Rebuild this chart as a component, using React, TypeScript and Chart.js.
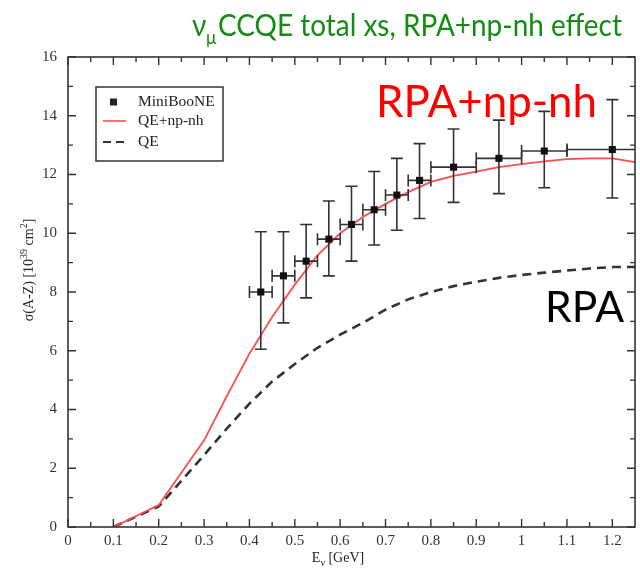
import React, { useEffect, useRef } from "react";
import { Chart, registerables } from "chart.js";

Chart.register(...registerables);

// ---- data ----
const xTickValues = [0, 0.1, 0.2, 0.3, 0.4, 0.5, 0.6, 0.7, 0.8, 0.9, 1.0, 1.1, 1.2];
const xTickLabels = ["0", "0.1", "0.2", "0.3", "0.4", "0.5", "0.6", "0.7", "0.8", "0.9", "1", "1.1", "1.2"];
const xMinorTicks = [0.05, 0.15, 0.25, 0.35, 0.45, 0.55, 0.65, 0.75, 0.85, 0.95, 1.05, 1.15];
const yTickValues = [0, 2, 4, 6, 8, 10, 12, 14, 16];
const yMinorTicks = [1, 3, 5, 7, 9, 11, 13, 15];

// MiniBooNE data
const mbX = [0.425, 0.475, 0.525, 0.575, 0.625, 0.675, 0.725, 0.775, 0.85, 0.95, 1.05, 1.2];
const mbXLow = [0.4, 0.45, 0.5, 0.55, 0.6, 0.65, 0.7, 0.75, 0.8, 0.9, 1.0, 1.1];
const mbXHigh = [0.45, 0.5, 0.55, 0.6, 0.65, 0.7, 0.75, 0.8, 0.9, 1.0, 1.1, 1.3];
const mbY = [8.0, 8.55, 9.05, 9.8, 10.3, 10.8, 11.3, 11.8, 12.25, 12.55, 12.8, 12.85];
const mbYLow = [6.05, 6.95, 7.8, 8.55, 9.05, 9.6, 10.1, 10.5, 11.05, 11.35, 11.55, 11.2];
const mbYHigh = [10.05, 10.05, 10.3, 11.1, 11.6, 12.1, 12.55, 13.05, 13.55, 13.85, 14.15, 14.55];

// QE+np-nh (red)
const npX = [0.1, 0.2, 0.3, 0.35, 0.4, 0.45, 0.5, 0.55, 0.6, 0.65, 0.7, 0.75, 0.8, 0.85, 0.9, 0.95, 1.0, 1.05, 1.1, 1.15, 1.2, 1.25];
const npY = [0, 0.75, 2.95, 4.45, 5.9, 7.15, 8.25, 9.25, 10.0, 10.55, 11.0, 11.4, 11.75, 11.95, 12.1, 12.25, 12.35, 12.45, 12.52, 12.55, 12.55, 12.42];

// QE (dashed)
const qeX = [0.1, 0.2, 0.3, 0.35, 0.4, 0.45, 0.5, 0.55, 0.6, 0.65, 0.7, 0.75, 0.8, 0.85, 0.9, 0.95, 1.0, 1.05, 1.1, 1.15, 1.2, 1.25];
const qeY = [0, 0.7, 2.45, 3.35, 4.2, 4.95, 5.55, 6.1, 6.55, 6.95, 7.4, 7.75, 8.0, 8.2, 8.35, 8.48, 8.58, 8.66, 8.73, 8.8, 8.85, 8.85];

const legendLabels = ["MiniBooNE", "QE+np-nh", "QE"];
const titleMain = "CCQE total xs, RPA+np-nh effect";
const annotationTop = "RPA+np-nh";
const annotationBottom = "RPA";

const SERIF = "'Liberation Serif', 'DejaVu Serif', serif";
const SANS = "Lato, 'Open Sans', sans-serif";

function fitFont(ctx: CanvasRenderingContext2D, text: string, family: string, width: number, weight = "") {
  ctx.font = `${weight} 40px ${family}`;
  const w = ctx.measureText(text).width;
  const size = (40 * width) / w;
  return `${weight} ${size.toFixed(2)}px ${family}`;
}

const decorPlugin = {
  id: "decor",
  beforeDatasetDraw(chart: any, args: any) {
    if (args.index !== 0) return;
    const { ctx, chartArea } = chart;
    const xs = chart.scales.x;
    const ys = chart.scales.y;
    ctx.save();
    ctx.beginPath();
    ctx.rect(chartArea.left, chartArea.top, chartArea.right - chartArea.left, chartArea.bottom - chartArea.top);
    ctx.clip();
    ctx.strokeStyle = "#333";
    ctx.lineWidth = 1.6;
    for (let i = 0; i < mbX.length; i++) {
      const px = xs.getPixelForValue(mbX[i]);
      const py = ys.getPixelForValue(mbY[i]);
      const yl = ys.getPixelForValue(mbYLow[i]);
      const yh = ys.getPixelForValue(mbYHigh[i]);
      const xl = xs.getPixelForValue(mbXLow[i]);
      const xh = xs.getPixelForValue(mbXHigh[i]);
      ctx.beginPath();
      ctx.moveTo(px, yl);
      ctx.lineTo(px, yh);
      ctx.moveTo(px - 6, yl);
      ctx.lineTo(px + 6, yl);
      ctx.moveTo(px - 6, yh);
      ctx.lineTo(px + 6, yh);
      ctx.moveTo(xl, py);
      ctx.lineTo(xh, py);
      ctx.moveTo(xl, py - 6);
      ctx.lineTo(xl, py + 6);
      ctx.moveTo(xh, py - 6);
      ctx.lineTo(xh, py + 6);
      ctx.stroke();
    }
    ctx.restore();
  },
  afterDraw(chart: any) {
    const { ctx, chartArea } = chart;
    const { left, right, top, bottom } = chartArea;
    const xs = chart.scales.x;
    const ys = chart.scales.y;
    ctx.save();
    // frame
    ctx.strokeStyle = "#333";
    ctx.lineWidth = 1.6;
    ctx.strokeRect(left, top, right - left, bottom - top);
    // ticks (inward, all sides)
    ctx.lineWidth = 1.4;
    ctx.beginPath();
    const xMaj = 8, xMin = 5, yMaj = 8, yMin = 5;
    xTickValues.forEach((v) => {
      const p = xs.getPixelForValue(v);
      ctx.moveTo(p, bottom); ctx.lineTo(p, bottom - xMaj);
      ctx.moveTo(p, top); ctx.lineTo(p, top + xMaj);
    });
    xMinorTicks.forEach((v) => {
      const p = xs.getPixelForValue(v);
      ctx.moveTo(p, bottom); ctx.lineTo(p, bottom - xMin);
      ctx.moveTo(p, top); ctx.lineTo(p, top + xMin);
    });
    yTickValues.forEach((v) => {
      const p = ys.getPixelForValue(v);
      ctx.moveTo(left, p); ctx.lineTo(left + yMaj, p);
      ctx.moveTo(right, p); ctx.lineTo(right - yMaj, p);
    });
    yMinorTicks.forEach((v) => {
      const p = ys.getPixelForValue(v);
      ctx.moveTo(left, p); ctx.lineTo(left + yMin, p);
      ctx.moveTo(right, p); ctx.lineTo(right - yMin, p);
    });
    ctx.stroke();

    // legend box
    const lx = left + 28, ly = top + 30, lw = 127, lh = 74;
    ctx.fillStyle = "#fff";
    ctx.fillRect(lx, ly, lw, lh);
    ctx.strokeStyle = "#333";
    ctx.lineWidth = 1.5;
    ctx.strokeRect(lx, ly, lw, lh);
    ctx.font = `15.5px ${SERIF}`;
    ctx.textBaseline = "middle";
    ctx.textAlign = "left";
    ctx.fillStyle = "#222";
    const rows = [ly + 15, ly + 34, ly + 55];
    // marker
    ctx.fillRect(lx + 14, rows[0] - 3.5, 7, 7);
    // red line
    ctx.strokeStyle = "#ff4d4d";
    ctx.lineWidth = 1.6;
    ctx.beginPath(); ctx.moveTo(lx + 7, rows[1]); ctx.lineTo(lx + 30, rows[1]); ctx.stroke();
    // dashed
    ctx.strokeStyle = "#333";
    ctx.lineWidth = 2.2;
    ctx.setLineDash([8, 5]);
    ctx.beginPath(); ctx.moveTo(lx + 7, rows[2]); ctx.lineTo(lx + 30, rows[2]); ctx.stroke();
    ctx.setLineDash([]);
    ctx.fillStyle = "#222";
    legendLabels.forEach((t, i) => ctx.fillText(t, lx + 42, rows[i]));

    // y axis title (rotated)
    ctx.save();
    ctx.translate(28, 270);
    ctx.rotate(-Math.PI / 2);
    const runs: [string, boolean][] = [["σ(A-Z) [10", false], ["39", true], [" cm", false], ["2", true], ["]", false]];
    const fMain = `14px ${SERIF}`, fSup = `10px ${SERIF}`;
    let total = 0;
    runs.forEach(([t, sup]) => { ctx.font = sup ? fSup : fMain; total += ctx.measureText(t).width; });
    let cx = -total / 2;
    ctx.fillStyle = "#222";
    ctx.textBaseline = "alphabetic";
    runs.forEach(([t, sup]) => {
      ctx.font = sup ? fSup : fMain;
      ctx.fillText(t, cx, sup ? -1 : 5);
      cx += ctx.measureText(t).width;
    });
    ctx.restore();

    // x axis title
    {
      const parts: [string, boolean][] = [["E", false], ["ν", true], [" [GeV]", false]];
      const fM = `14px ${SERIF}`, fS = `10px ${SERIF}`;
      let tw = 0;
      parts.forEach(([t, s]) => { ctx.font = s ? fS : fM; tw += ctx.measureText(t).width; });
      let sx = 338 - tw / 2;
      ctx.fillStyle = "#222";
      ctx.textBaseline = "alphabetic";
      parts.forEach(([t, s]) => {
        ctx.font = s ? fS : fM;
        ctx.fillText(t, sx, s ? 566 : 562);
        sx += ctx.measureText(t).width;
      });
    }

    // main title (slightly taller font, as in the original)
    ctx.fillStyle = "#148c14";
    ctx.textBaseline = "alphabetic";
    ctx.textAlign = "left";
    const tf = fitFont(ctx, titleMain, SANS, 404);
    const sizeMatch = parseFloat(tf.trim().split("px")[0]);
    ctx.save();
    ctx.translate(0, 36);
    ctx.scale(1, 1.12);
    ctx.font = `${sizeMatch}px ${SANS}`;
    ctx.fillText("ν", 192, 0);
    ctx.font = `${sizeMatch * 0.62}px ${SANS}`;
    ctx.fillText("μ", 206, 7);
    ctx.font = tf;
    ctx.fillText(titleMain, 218, 0);
    ctx.restore();

    // annotations
    ctx.fillStyle = "#ff0000";
    ctx.font = fitFont(ctx, annotationTop, SANS, 221);
    ctx.fillText(annotationTop, 376, 117);
    ctx.fillStyle = "#000";
    ctx.font = fitFont(ctx, annotationBottom, SANS, 79);
    ctx.fillText(annotationBottom, 545, 322);

    ctx.restore();
  },
};

export default function App() {
  const ref = useRef<HTMLCanvasElement | null>(null);
  useEffect(() => {
    if (!ref.current) return;
    const chart = new Chart(ref.current, {
      type: "line",
      data: {
        datasets: [
          {
            label: legendLabels[0],
            data: mbX.map((x, i) => ({ x, y: mbY[i] })),
            showLine: false,
            pointStyle: "rect",
            pointRadius: 5,
            pointBackgroundColor: "#111",
            pointBorderColor: "#111",
            pointBorderWidth: 0,
          },
          {
            label: legendLabels[1],
            data: npX.map((x, i) => ({ x, y: npY[i] })),
            borderColor: "#ff4d4d",
            borderWidth: 1.8,
            pointRadius: 0,
            tension: 0,
            fill: false,
          },
          {
            label: legendLabels[2],
            data: qeX.map((x, i) => ({ x, y: qeY[i] })),
            borderColor: "#333",
            borderWidth: 2.6,
            borderDash: [9, 6],
            pointRadius: 0,
            tension: 0,
            fill: false,
          },
        ],
      },
      options: {
        responsive: false,
        animation: false,
        devicePixelRatio: 1,
        layout: { padding: { left: 0, top: 57, right: 3, bottom: 0 } },
        plugins: { legend: { display: false }, title: { display: false }, tooltip: { enabled: false } },
        scales: {
          x: {
            type: "linear",
            min: 0,
            max: 1.25,
            grid: { display: false, drawTicks: false },
            border: { display: false },
            afterBuildTicks: (s: any) => { s.ticks = xTickValues.map((v) => ({ value: v })); },
            afterFit: (s: any) => { s.height = 46; },
            ticks: {
              padding: 5,
              autoSkip: false,
              maxRotation: 0,
              color: "#333",
              font: { family: SERIF, size: 15 },
              callback: (v: any) => { const i = xTickValues.indexOf(v); return i >= 0 ? xTickLabels[i] : ""; },
            },
          },
          y: {
            type: "linear",
            min: 0,
            max: 16,
            grid: { display: false, drawTicks: false },
            border: { display: false },
            afterBuildTicks: (s: any) => { s.ticks = yTickValues.map((v) => ({ value: v })); },
            afterFit: (s: any) => { s.width = 68; },
            ticks: {
              padding: 11,
              color: "#333",
              font: { family: SERIF, size: 15 },
              callback: (v: any) => String(v),
            },
          },
        },
      },
      plugins: [decorPlugin],
    });
    return () => chart.destroy();
  }, []);
  return (
    <div style={{ position: "absolute", left: 0, top: 0, width: 640, height: 573, background: "#fff" }}>
      <canvas ref={ref} width={640} height={573} style={{ display: "block" }} />
    </div>
  );
}
